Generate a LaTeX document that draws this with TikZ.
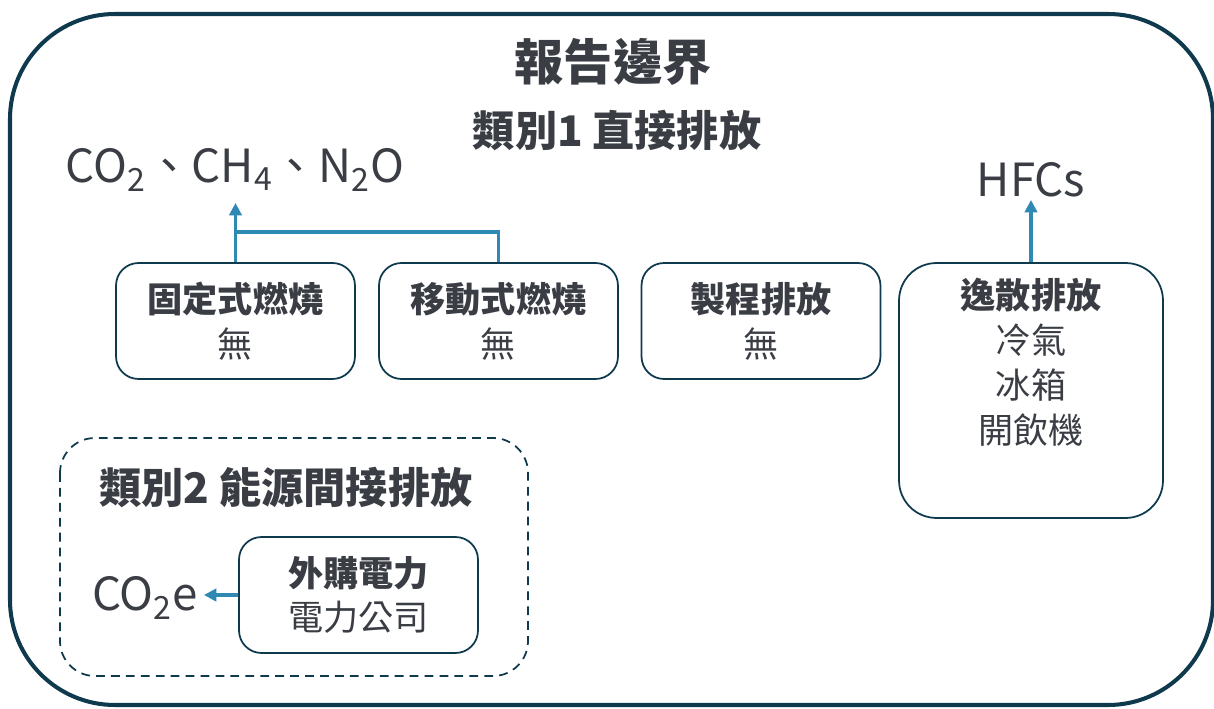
\documentclass[tikz,border=0pt]{standalone}
\usepackage{fontspec}
\setmainfont{Noto Sans CJK TC}
\usetikzlibrary{arrows.meta,positioning}
\definecolor{framecol}{HTML}{0F3A4E}
\definecolor{flowcol}{HTML}{2E89B3}
\definecolor{inkcol}{HTML}{3A3E44}
\tikzset{
  srcbox/.style={draw=framecol,line width=1pt,rounded corners=0.45cm,minimum width=4.78cm,minimum height=2.32cm,align=center,text=inkcol,font=\fontsize{20}{25.5}\selectfont},
  boxtext/.style={align=center,text=inkcol,font=\fontsize{20}{25.5}\selectfont},
  gas/.style={text=inkcol,font=\fontsize{26}{30}\selectfont},
  heading/.style={text=inkcol,font=\fontsize{24}{28}\selectfont\bfseries},
  flow/.style={draw=flowcol,line width=2pt,-{Triangle[length=7pt,width=7pt]}},
  flowline/.style={draw=flowcol,line width=2pt}
}
\begin{document}
\begin{tikzpicture}[x=0.02cm,y=-0.02cm]
    \useasboundingbox (0,0) rectangle (1214,709);
    \draw [framecol,line width=2.3pt,rounded corners=2.1cm] (10,14) rectangle (1213,705);
    \node [text=inkcol,font=\fontsize{28}{32}\selectfont\bfseries] (title) at (613,62) {報告邊界};
    \node [heading] (scope1) at (617,131) {類別1 直接排放};
    \node [gas] (ghg) at (235,170) {CO\textsubscript{2}、CH\textsubscript{4}、N\textsubscript{2}O};
    \node [gas] (hfc) at (1031,180) {HFCs};
    \node [srcbox] (fixed) at (235.5,321) {\textbf{固定式燃燒}\\無};
    \node [srcbox] (mobile) at (498.5,321) {\textbf{移動式燃燒}\\無};
    \node [srcbox] (process) at (761,321) {\textbf{製程排放}\\無};
    \node [srcbox,minimum width=5.28cm,minimum height=5.1cm,rounded corners=0.75cm] (leak) at (1031,390.5) {};
    \node [boxtext,below=0.2cm of leak.north] (leaktext) {\textbf{逸散排放}\\冷氣\\冰箱\\開飲機};
    \coordinate (joint) at (fixed.north |- 0,232);
    \draw [flowline] (mobile.north) |- (joint);
    \draw [flow] (fixed.north) -- (fixed.north |- 0,203);
    \draw [flow] (leak.north) -- (leak.north |- 0,200);
    \draw [framecol,line width=1pt,dashed,dash pattern=on 5pt off 3.5pt,rounded corners=0.7cm] (60,438) rectangle (528,676);
    \node [heading] (scope2) at (286,487) {類別2 能源間接排放};
    \node [srcbox] (buy) at (358.5,595) {\textbf{外購電力}\\電力公司};
    \node [gas] (co2e) at (145,598) {CO\textsubscript{2}e};
    \draw [flow] (buy.west) -- (buy.west -| co2e.east);
  \end{tikzpicture}
\end{document}
